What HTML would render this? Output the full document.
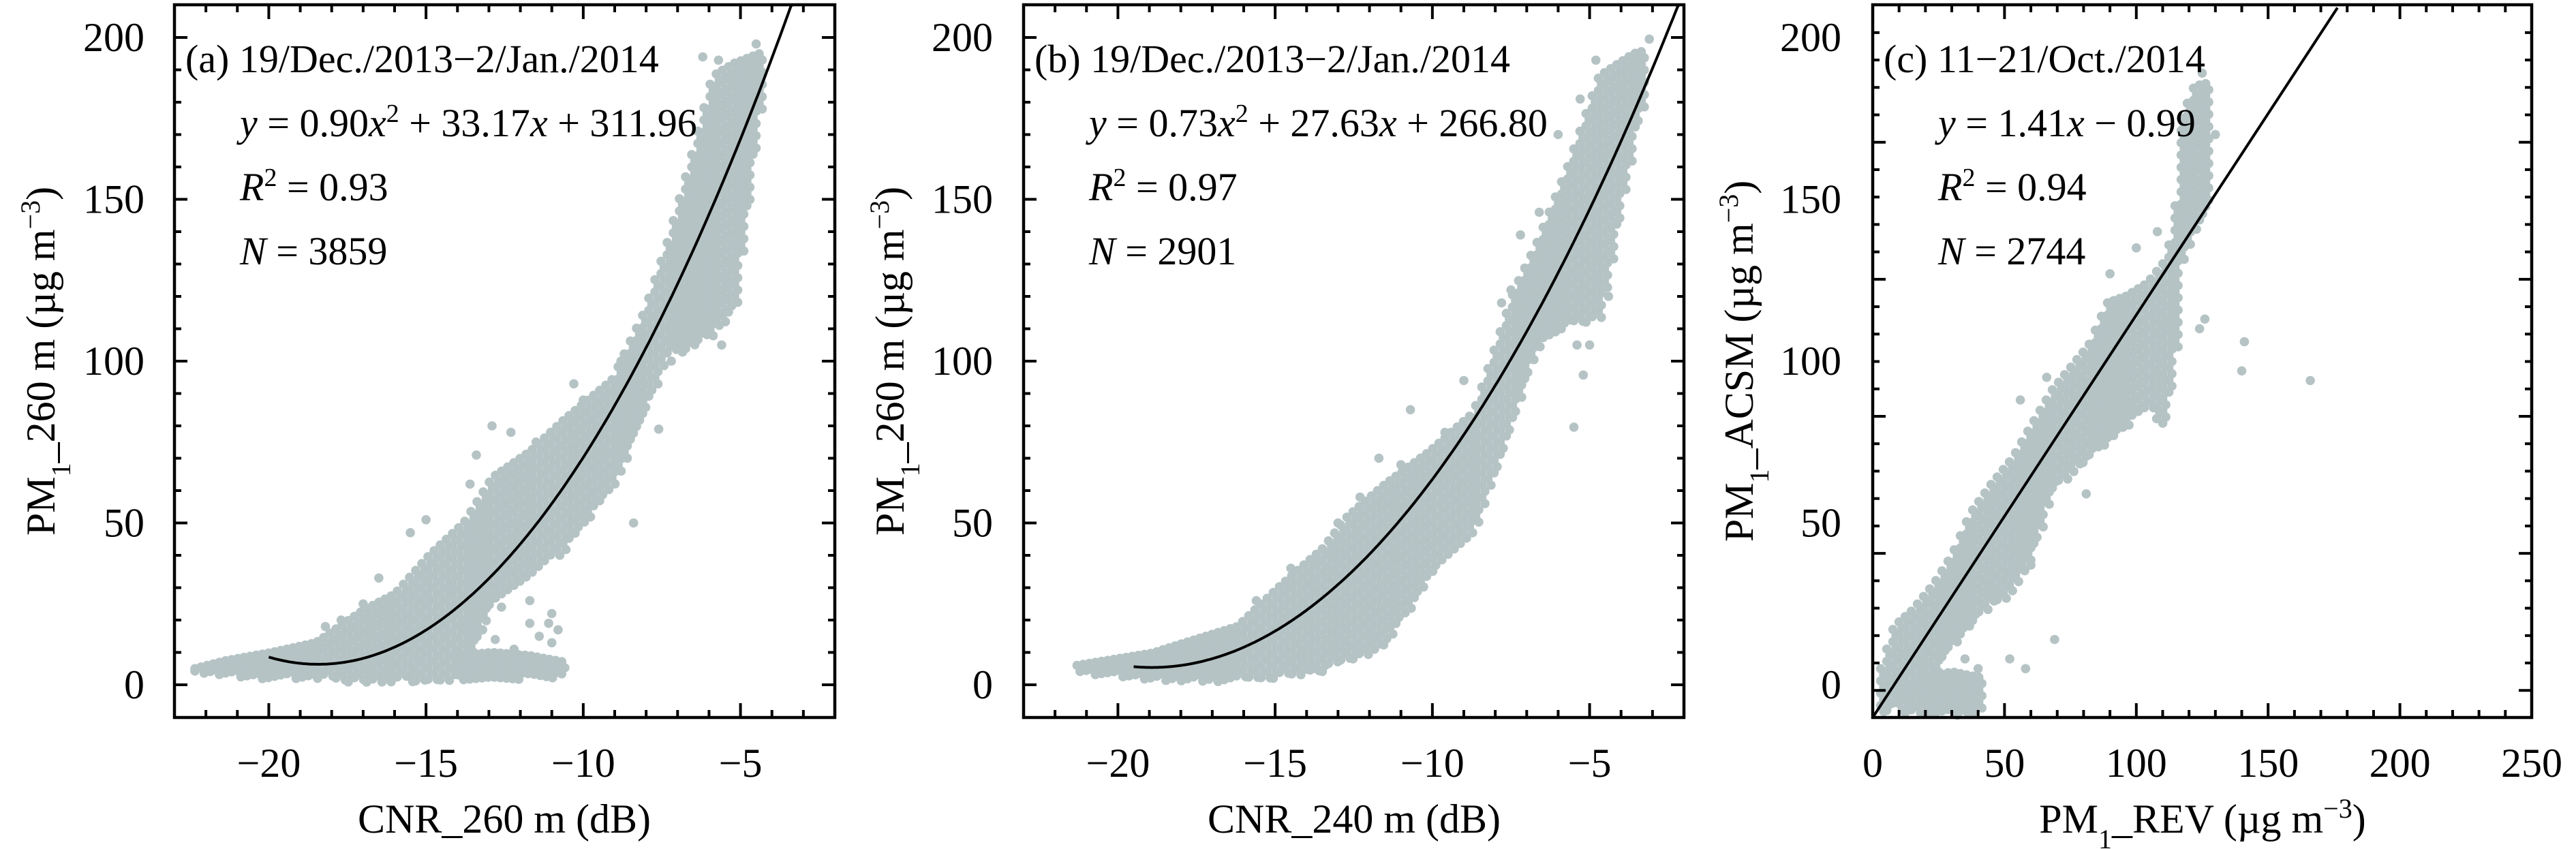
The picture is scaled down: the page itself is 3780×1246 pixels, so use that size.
<!DOCTYPE html>
<html><head><meta charset="utf-8"><style>
html,body{margin:0;padding:0;background:#fff;}
svg{display:block;font-family:"Liberation Serif","DejaVu Serif",serif;}
</style></head><body>
<svg id="chart" width="3780" height="1246" viewBox="0 0 3780 1246" xmlns="http://www.w3.org/2000/svg">
<g id="dots"></g>
<g id="lines"></g>
<g id="axes"></g>
<g id="texts"></g>
</svg>
<script>
// ---------- Panel A data (CNR_260 m vs PM1_260 m) ----------
const aBandX  = [-22.35,-21.35,-19.9,-18.5,-17.0,-16.0,-14.9,-13.8,-12.9,-11.7,-10.6,-9.1,-8.07,-7.35,-6.6,-5.9,-5.2,-4.4];
const aBandLo = [3.5,2.6,1.7,1.7,0.5,0.8,0.8,1.7,26,33,42,61,84,101,104,108,117,178];
const aBandHi = [5,7.5,10,13,23,28,40,50,64,72,82,94,115,136,162,188,192,195];
const aLowX  = [-14.0,-12.9,-11.7,-10.6];
const aLowLo = [1.5,1.7,1.7,2];
const aLowHi = [9,10,9,7];
const aOutX = [-4.5,-6.2,-5.7,-5.4,-5.6,-7.2,-7.6,-8.4,-9.4,-10.3,-12.9,-13.4,-15,-11.1,-11,-11.7,-12.6,-13.2,-13.8,-12.2,-11.7,-11.4,-17,-17.7,-12.4,-13.0,-13.5,-12.0,-11.0,-10.8,-12.8,-14.3,-16.5,-18.2,-6.0,-6.4,-5.0,-7.0,-8.8,-10.0,-11.5,-12.3,-13.6,-15.5,-4.8];
const aOutY = [198,194,193,126,105,100,79,50,71,93,80,71,51,19,13,26,24,17,19,11,19,15,25,20,30,35,40,45,22,17,14,30,33,18,125,115,140,128,100,88,75,78,62,47,188];
const aFit = [0.90,33.17,311.96], aFitStart = -20;
// ---------- Panel B data (CNR_240 m vs PM1_260 m) ----------
const bBandX  = [-21.3,-18.9,-17.6,-16.2,-14.9,-13.5,-12.7,-11.5,-10.1,-8.7,-7.4,-6.7,-5.7,-4.7,-3.6,-3.2];
const bBandLo = [3.5,1.1,1,1,1.9,4,7,12,34,47,83,104,112,112,169,183];
const bBandHi = [6,9.8,13.8,18,30,42,52,62,72,84,122,136,160,188,195,196];
const bOutX = [-3.1,-5.5,-5.2,-5.4,-5.0,-10.7,-11.7,-9.0,-6.6,-7.2,-7.5,-5.3,-4.8,-12.0,-14.1,-12.3,-13.0,-11.0,-9.6,-8.0,-6.0,-4.4,-5.9,-7.8,-10.4,-14.5,-15.6,-13.8];
const bOutY = [199.5,79.6,95.7,105,105,85,70,94,146,139,122,181,193,14,9,58,50,68,78,92,170,120,110,118,40,36,26,5];
const bFit = [0.73,27.63,266.80], bFitStart = -19.5;
// ---------- Panel C data (PM1_REV vs PM1_ACSM) ----------
const cBandX  = [3,8,15,23,30,37,45,53,60,68,75,82,89,96,104,110,114,117,122,128];
const cBandLo = [-10,-6,-2,3,12,19,25,28,40,60,65,70,75,80,85,80,95,130,140,150];
const cBandHi = [5,18,23,31,40,53,62,70,80,91,98,105,118,120,124,130,140,175,185,186];
const cLowX  = [10,20,30,42];
const cLowLo = [-10,-10,-10,-8];
const cLowHi = [-2,2,4,2];
const cOutX = [140,141,166,69,81,52,58,130,112,124,126,45,60,125,120,18,25,35,40,28,14,108,100,90,66,56];
const cOutY = [97,106,94,14,59,8,5,170,112,110,113,28,37,189,160,6,4,8,5,-2,10,140,135,127,95,88];
const cFit = [1.41,-0.99];
// tick labels
const abXTicks = [-20,-15,-10,-5];
const cXTicks = [0,50,100,150,200,250];
const yTicks = [0,50,100,150,200];

const NS = "http://www.w3.org/2000/svg";
const gDots = document.getElementById('dots');
const gLines = document.getElementById('lines');
const gAxes = document.getElementById('axes');
const gText = document.getElementById('texts');
const TOP = 7, BOT = 1053;
function mk(tag, attrs, parent){const e=document.createElementNS(NS,tag);for(const k in attrs)e.setAttribute(k,attrs[k]);parent.appendChild(e);return e;}
const yLab = v => 1005 - 4.75*v;
function linX(d0,d1,p0,p1){return v=>p0+(v-d0)/(d1-d0)*(p1-p0);}
const panels = {
  a:{x:linX(-23,-2,256,1225),L:256,R:1225},
  b:{x:linX(-23,-2,1502,2471),L:1502,R:2471},
  c:{x:linX(0,250,2748,3715),L:2748,R:3715}
};
const yLineC = v => 1053 - (v+0.99)*4.19;
const DOT='#b5c3c5', RAD=6.8, STEP=9;

function dot(px,py,name,clipL,clipR){
  if(px<clipL+3||px>clipR-3||py>BOT-3||py<TOP+3) return;
  const c=mk('circle',{cx:px.toFixed(1),cy:py.toFixed(1),r:RAD,fill:DOT},gDots);
  
  
}
function fillBand(P,bx,lo,hi,name){
  const x0=P.x(bx[0]), x1=P.x(bx[bx.length-1]);
  for(let px=x0; px<=x1+0.1; px+=STEP){
    let i=0; while(i<bx.length-2 && P.x(bx[i+1])<px) i++;
    const t=Math.max(0,Math.min(1,(px-P.x(bx[i]))/(P.x(bx[i+1])-P.x(bx[i]))));
    const l=lo[i]+(lo[i+1]-lo[i])*t, h=hi[i]+(hi[i+1]-hi[i])*t;
    const pTop=yLab(h), pBot=yLab(l);
    for(let py=pTop; py<=pBot+0.1; py+=STEP){
      dot(px+((Math.round((py-pTop)/STEP))%2?STEP/2:0),py,name,P.L,P.R);
    }
    if(pBot-pTop<STEP) dot(px,(pTop+pBot)/2,name,P.L,P.R);
  }
}
function outliers(P,xs,ys,name){for(let i=0;i<xs.length;i++) dot(P.x(xs[i]),yLab(ys[i]),name,P.L,P.R);}

fillBand(panels.a,aBandX,aBandLo,aBandHi,'scatter-point-a');
fillBand(panels.a,aLowX,aLowLo,aLowHi,'scatter-point-a');
outliers(panels.a,aOutX,aOutY,'scatter-point-a');
fillBand(panels.b,bBandX,bBandLo,bBandHi,'scatter-point-b');
outliers(panels.b,bOutX,bOutY,'scatter-point-b');
fillBand(panels.c,cBandX,cBandLo,cBandHi,'scatter-point-c');
fillBand(panels.c,cLowX,cLowLo,cLowHi,'scatter-point-c');
outliers(panels.c,cOutX,cOutY,'scatter-point-c');

function quadPath(P,f,x0){
  let d='';
  for(let x=x0;x<=-1.5;x+=0.05){
    const y=f[0]*x*x+f[1]*x+f[2]; const py=yLab(y);
    if(py<TOP){ const px=P.x(x); d+='L'+px.toFixed(1)+','+TOP; break;}
    d+=(d?'L':'M')+P.x(x).toFixed(1)+','+py.toFixed(1);
  }
  return d;
}
let fa=mk('path',{d:quadPath(panels.a,aFit,aFitStart),fill:'none',stroke:'#000','stroke-width':4},gLines);


let fb=mk('path',{d:quadPath(panels.b,bFit,bFitStart),fill:'none',stroke:'#000','stroke-width':4},gLines);


{
  const x0=0, x1=(248.6+(-cFit[1]))/cFit[0]-0.7;
  const yv0=cFit[0]*x0+cFit[1], yv1=cFit[0]*x1+cFit[1];
  let fc=mk('line',{x1:panels.c.x(x0),y1:yLineC(yv0),x2:panels.c.x(x1),y2:Math.max(TOP,yLineC(yv1)),stroke:'#000','stroke-width':4},gLines);
  
  
}

function tick(x1,y1,x2,y2){mk('line',{x1,y1,x2,y2,stroke:'#000','stroke-width':4},gAxes);}
function frame(P,key,xMajors,xMinorStep,xd0,xd1,yTickPx){
  const r=mk('rect',{x:P.L,y:TOP,width:P.R-P.L,height:BOT-TOP,fill:'none',stroke:'#000','stroke-width':4.5},gAxes);
  
  
  for(let v=xd0; v<=xd1+1e-6; v+=xMinorStep){
    const px=P.x(v); if(px<=P.L+2||px>=P.R-2) continue;
    const major=xMajors.some(m=>Math.abs(m-v)<1e-6);
    const len=major?21:11;
    tick(px,BOT,px,BOT-len); tick(px,TOP,px,TOP+len);
  }
  yTickPx.forEach(t=>{const len=t.major?19:10; tick(P.L,t.py,P.L+len,t.py); tick(P.R,t.py,P.R-len,t.py);});
}
function stdYTicks(){const arr=[];for(let v=-10;v<=210;v+=10){const py=yLab(v);if(py>TOP+3&&py<BOT-3)arr.push({py,major:v%50===0});}return arr;}
function cYTicks(){const arr=[];for(let k=-1;k<=25;k++){const v=8.5+k*9.6;const py=yLineC(v);if(py>TOP+3&&py<BOT-3)arr.push({py,major:k%5===0});}return arr;}
frame(panels.a,'a',abXTicks,1,-23,-2,stdYTicks());
frame(panels.b,'b',abXTicks,1,-23,-2,stdYTicks());
frame(panels.c,'c',cXTicks,10,0,250,cYTicks());

function txt(x,y,s,name,opts){
  const t=mk('text',Object.assign({x,y,'font-size':60,fill:'#000'},opts||{}),gText);
  t.textContent=s;
  
  
  return t;
}
function rich(x,y,parts,name,opts){
  const t=mk('text',Object.assign({x,y,'font-size':60,fill:'#000'},opts||{}),gText);
  
  
  parts.forEach(p=>{const s=mk('tspan',p.a||{},t);s.textContent=p.t;});
  return t;
}
[['a',panels.a,212],['b',panels.b,1457],['c',panels.c,2702]].forEach(([k,P,rx])=>{
  yTicks.forEach(v=>txt(rx,yLab(v)+20,String(v),'y-tick-label-'+k,{'text-anchor':'end'}));
});
abXTicks.forEach(v=>{txt(panels.a.x(v),1140,'\u2212'+Math.abs(v),'x-tick-label-a',{'text-anchor':'middle'});});
abXTicks.forEach(v=>{txt(panels.b.x(v),1140,'\u2212'+Math.abs(v),'x-tick-label-b',{'text-anchor':'middle'});});
cXTicks.forEach(v=>{txt(panels.c.x(v),1140,String(v),'x-tick-label-c',{'text-anchor':'middle'});});

const sub={'baseline-shift':'sub','font-size':40}, sup={'baseline-shift':'super','font-size':40};
txt(740,1222,'CNR_260 m (dB)','x-axis-title-a',{'text-anchor':'middle'});
txt(1987,1222,'CNR_240 m (dB)','x-axis-title-b',{'text-anchor':'middle'});
rich(3232,1222,[{t:'PM'},{t:'1',a:sub},{t:'_REV (µg m'},{t:'\u22123',a:sup},{t:')'}],'x-axis-title-c',{'text-anchor':'middle'});
rich(80,530,[{t:'PM'},{t:'1',a:sub},{t:'_260 m (µg m'},{t:'\u22123',a:sup},{t:')'}],'y-axis-title-a',{'text-anchor':'middle',transform:'rotate(-90 80 530)'});
rich(1326,530,[{t:'PM'},{t:'1',a:sub},{t:'_260 m (µg m'},{t:'\u22123',a:sup},{t:')'}],'y-axis-title-b',{'text-anchor':'middle',transform:'rotate(-90 1326 530)'});
rich(2572,530,[{t:'PM'},{t:'1',a:sub},{t:'_ACSM (µg m'},{t:'\u22123',a:sup},{t:')'}],'y-axis-title-c',{'text-anchor':'middle',transform:'rotate(-90 2572 530)'});

const it={'font-style':'italic'}, sp={'baseline-shift':'super','font-size':38};
function annot(k,L,title,eq,r2,n){
  txt(L+16,106,title,'panel-title-'+k,{'font-size':58});
  rich(L+96,200,eq,'fit-equation-'+k,{'font-size':58});
  rich(L+96,294,[{t:'R',a:it},{t:'2',a:sp},{t:' = '+r2}],'r-squared-'+k,{'font-size':58});
  rich(L+96,388,[{t:'N',a:it},{t:' = '+n}],'sample-count-'+k,{'font-size':58});
}
annot('a',256,'(a) 19/Dec./2013\u22122/Jan./2014',
  [{t:'y',a:it},{t:' = 0.90'},{t:'x',a:it},{t:'2',a:sp},{t:' + 33.17'},{t:'x',a:it},{t:' + 311.96'}],'0.93','3859');
annot('b',1502,'(b) 19/Dec./2013\u22122/Jan./2014',
  [{t:'y',a:it},{t:' = 0.73'},{t:'x',a:it},{t:'2',a:sp},{t:' + 27.63'},{t:'x',a:it},{t:' + 266.80'}],'0.97','2901');
annot('c',2748,'(c) 11\u221221/Oct./2014',
  [{t:'y',a:it},{t:' = 1.41'},{t:'x',a:it},{t:' \u2212 0.99'}],'0.94','2744');
</script>
</body></html>
